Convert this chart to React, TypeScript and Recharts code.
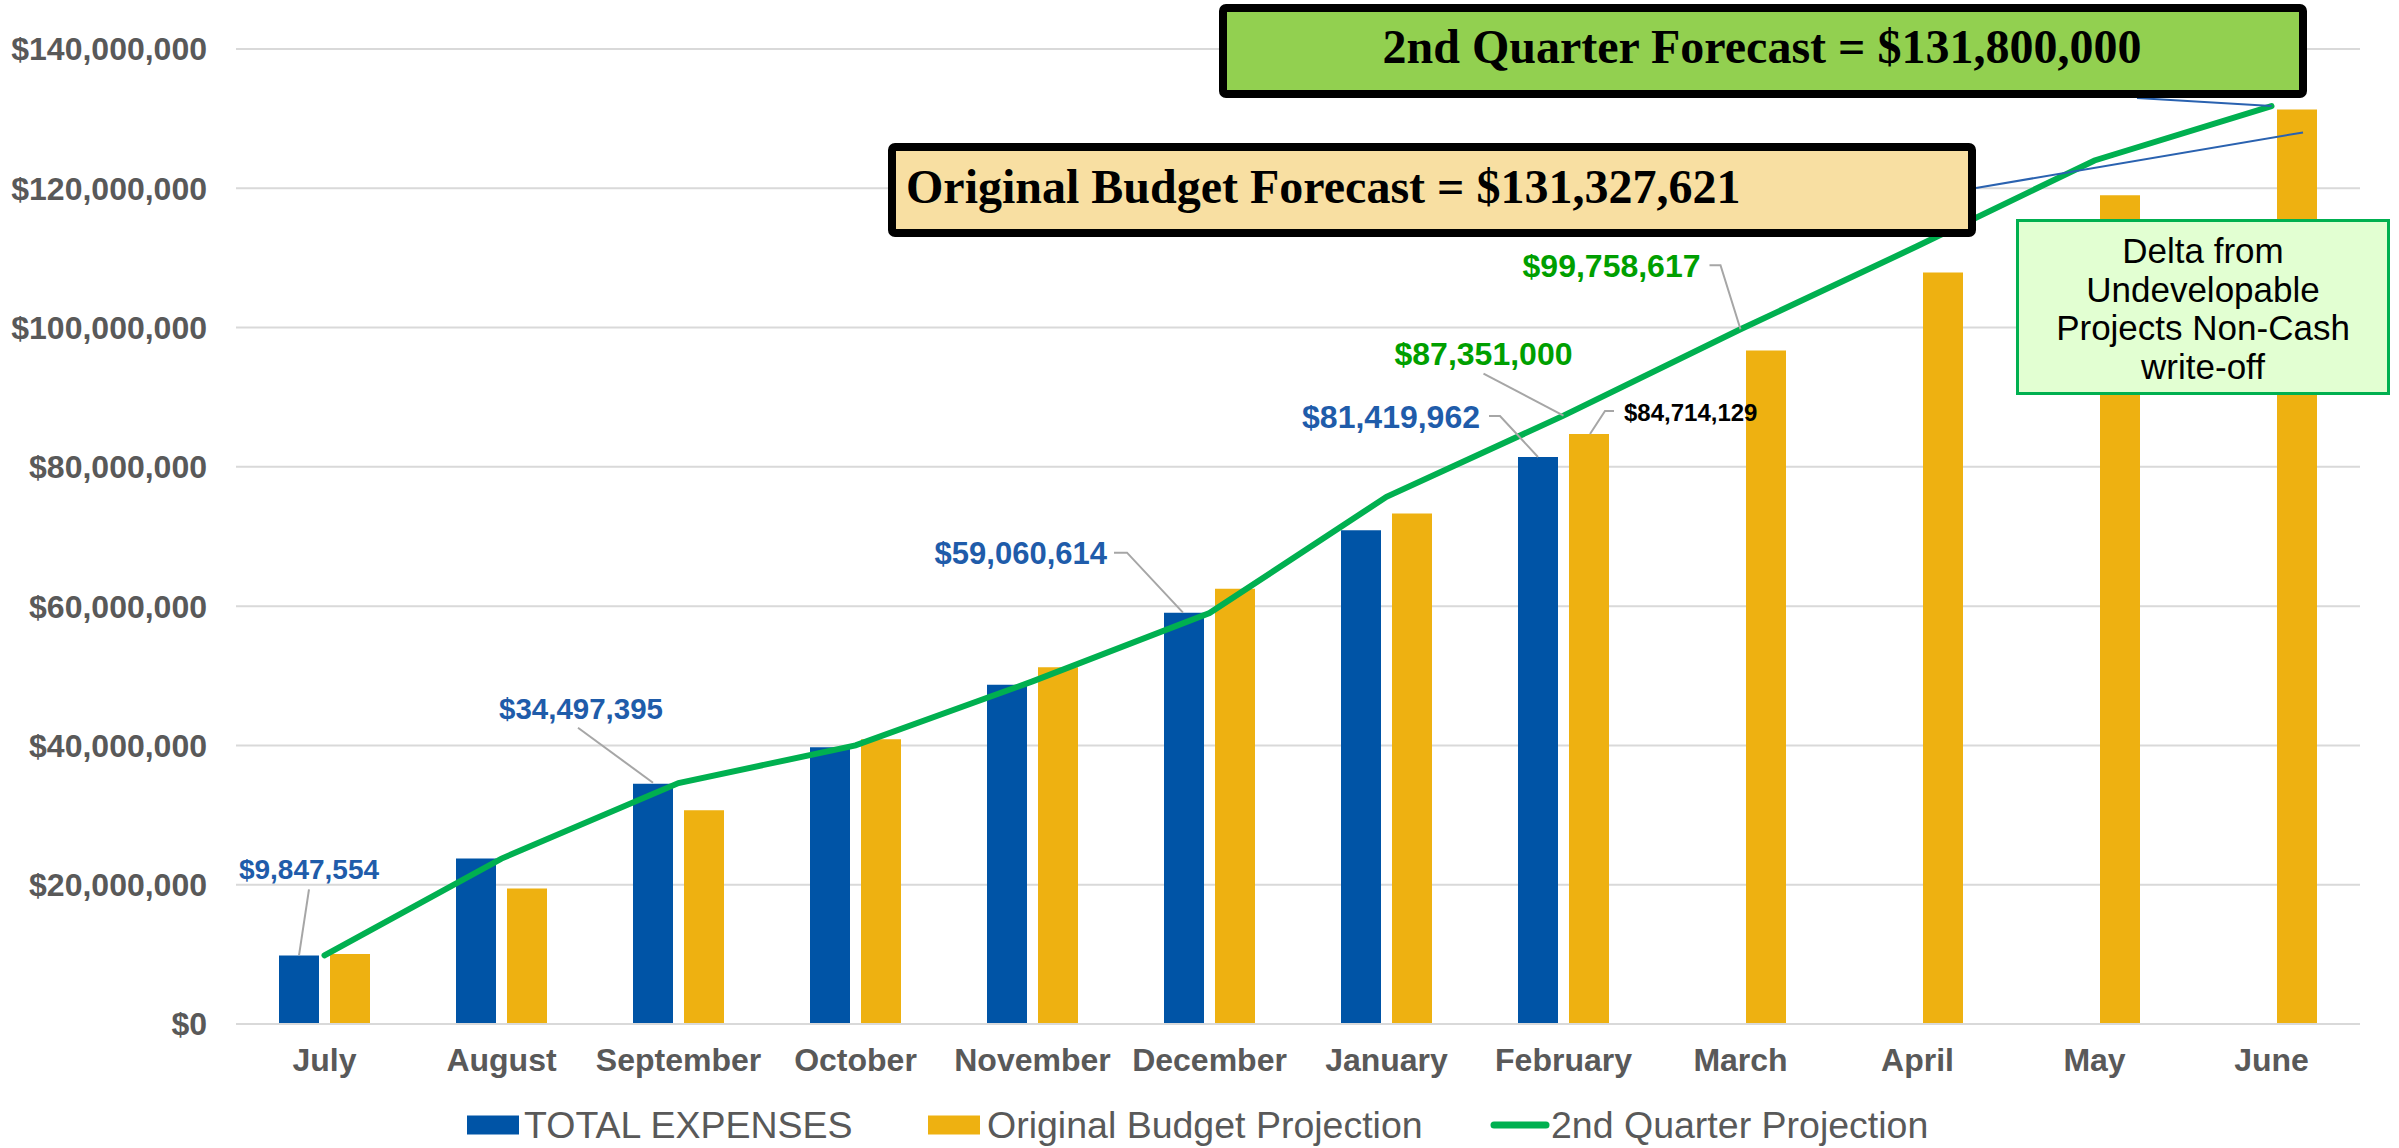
import React from 'react';
import { ComposedChart, Bar, Line, XAxis, YAxis, CartesianGrid, Legend, LabelList } from 'recharts';

// ---------- data ----------
const months = ['July', 'August', 'September', 'October', 'November', 'December', 'January', 'February', 'March', 'April', 'May', 'June'];
const totalExpenses: (number | null)[] = [9847554, 23750000, 34497395, 39740000, 48720000, 59060614, 70900000, 81419962, null, null, null, null];
const originalBudget = [10050000, 19470000, 30700000, 40880000, 51210000, 62490000, 73300000, 84714129, 96700000, 107900000, 119000000, 131327621];
const secondQuarter = [9847554, 23750000, 34600000, 40000000, 49200000, 59000000, 75700000, 87351000, 99758617, 111700000, 124000000, 131800000];
const yTicks = [0, 20000000, 40000000, 60000000, 80000000, 100000000, 120000000, 140000000];
const seriesNames = ['TOTAL EXPENSES', 'Original Budget Projection', '2nd Quarter Projection'];
const deltaNote = ['Delta from', 'Undevelopable', 'Projects Non-Cash', 'write-off'];

const data = months.map((m, i) => ({ month: m, expenses: totalExpenses[i], budget: originalBudget[i], q2: secondQuarter[i] }));

// ---------- styles ----------
const W = 2399;
const H = 1148;
const BLUE = '#0054A6';
const YELLOW = '#EEB111';
const GREEN = '#00B050';
const BLUE_TXT = '#1F5CAA';
const GREEN_TXT = '#009F00';
const GRID = '#D9D9D9';
const AXIS_TXT = '#595959';
const LEADER = '#A6A6A6';
const CONNECT = '#2A62B0';
const SANS = 'Liberation Sans, Arial, sans-serif';
const SERIF = 'Liberation Serif, Times New Roman, serif';

const money = (v: number) => '$' + Math.round(v).toLocaleString('en-US');

// label placement relative to the mark (cx/top for bars, point for line)
type LabelCfg = { dx: number; dy: number; anchor: 'start' | 'middle' | 'end'; size: number; color: string; leader: number[][] };
const blueLabelCfg: Record<number, LabelCfg> = {
  0: { dx: 10, dy: -76, anchor: 'middle', size: 28, color: BLUE_TXT, leader: [[10, -66], [0, 0]] },
  2: { dx: -72, dy: -65, anchor: 'middle', size: 29.5, color: BLUE_TXT, leader: [[-75, -56], [0, -1]] },
  5: { dx: -77, dy: -49, anchor: 'end', size: 31, color: BLUE_TXT, leader: [[-70, -60], [-57, -60], [-1, 0]] },
  7: { dx: -58, dy: -29, anchor: 'end', size: 32, color: BLUE_TXT, leader: [[-49, -41], [-38, -41], [0, 0]] },
};
const yellowLabelCfg: Record<number, LabelCfg> = {
  7: { dx: 35, dy: -13, anchor: 'start', size: 24, color: '#000000', leader: [[1, 0], [16, -23], [25, -23]] },
};
const lineLabelCfg: Record<number, LabelCfg> = {
  7: { dx: -80, dy: -51, anchor: 'middle', size: 32, color: GREEN_TXT, leader: [[-80, -42], [0, 0]] },
  8: { dx: -40, dy: -52, anchor: 'end', size: 32, color: GREEN_TXT, leader: [[-31, -64], [-20, -64], [0, 0]] },
};

// annotation boxes (chart pixel layout)
const greenBox = { x: 1223, y: 8, w: 1080, h: 86, fill: '#92D050', textX: 1762, textY: 63, anchorX: 2137 };
const tanBox = { x: 892, y: 147, w: 1080, h: 86, fill: '#F8DFA2', textX: 906, textY: 203 };
const deltaBox = { x: 2017.5, y: 220.5, w: 371, h: 173, fill: '#E2FFD2', textX: 2203, firstBaseline: 263, lineGap: 38.5 };

const renderLabel = (cfg: LabelCfg | undefined, cx: number, top: number, value: number) => {
  if (!cfg || value == null) return null;
  const pts = cfg.leader.map(([a, b]) => `${cx + a},${top + b}`).join(' ');
  return (
    <g>
      <polyline points={pts} fill="none" stroke={LEADER} strokeWidth={2} />
      <text x={cx + cfg.dx} y={top + cfg.dy} textAnchor={cfg.anchor} fontSize={cfg.size} fontWeight="bold" fill={cfg.color} fontFamily={SANS}>
        {money(value)}
      </text>
    </g>
  );
};

const BlueLabel = (p: any) => {
  const cx = Number(p.x) + Number(p.width) / 2;
  return renderLabel(blueLabelCfg[p.index], cx, Number(p.y), p.value);
};

const YellowLabel = (p: any) => {
  const cx = Number(p.x) + Number(p.width) / 2;
  const top = Number(p.y);
  if (p.index === originalBudget.length - 1) {
    return (
      <line x1={cx + 6} y1={top + 23} x2={tanBox.x + tanBox.w + 4} y2={tanBox.y + tanBox.h / 2 - 2} stroke={CONNECT} strokeWidth={2} />
    );
  }
  return renderLabel(yellowLabelCfg[p.index], cx, top, p.value);
};

const LineLabel = (p: any) => {
  const px = Number(p.x);
  const py = Number(p.y);
  if (p.index === secondQuarter.length - 1) {
    return (
      <g>
        <line x1={greenBox.anchorX} y1={greenBox.y + greenBox.h + 4} x2={px} y2={py} stroke={CONNECT} strokeWidth={2} />
        <rect x={greenBox.x} y={greenBox.y} width={greenBox.w} height={greenBox.h} fill={greenBox.fill} stroke="#000" strokeWidth={8} rx={3} />
        <text x={greenBox.textX} y={greenBox.textY} textAnchor="middle" fontSize={48} fontWeight="bold" fontFamily={SERIF} fill="#000">
          {`2nd Quarter Forecast = ${money(secondQuarter[secondQuarter.length - 1])}`}
        </text>
        <rect x={tanBox.x} y={tanBox.y} width={tanBox.w} height={tanBox.h} fill={tanBox.fill} stroke="#000" strokeWidth={8} rx={3} />
        <text x={tanBox.textX} y={tanBox.textY} textAnchor="start" fontSize={48} fontWeight="bold" fontFamily={SERIF} fill="#000">
          {`Original Budget Forecast = ${money(originalBudget[originalBudget.length - 1])}`}
        </text>
        <rect x={deltaBox.x} y={deltaBox.y} width={deltaBox.w} height={deltaBox.h} fill={deltaBox.fill} stroke={GREEN} strokeWidth={3} />
        {deltaNote.map((t, i) => (
          <text key={t} x={deltaBox.textX} y={deltaBox.firstBaseline + i * deltaBox.lineGap} textAnchor="middle" fontSize={35} fontFamily={SANS} fill="#000">
            {t}
          </text>
        ))}
      </g>
    );
  }
  return renderLabel(lineLabelCfg[p.index], px, py, p.value);
};

const legendItems = [
  { name: seriesNames[0], color: BLUE, kind: 'rect', iconX: 467, textX: 524 },
  { name: seriesNames[1], color: YELLOW, kind: 'rect', iconX: 928, textX: 987 },
  { name: seriesNames[2], color: GREEN, kind: 'line', iconX: 1492, textX: 1551 },
];

const LegendContent = () => (
  <svg width={W} height={64} style={{ display: 'block' }}>
    {legendItems.map((it) => (
      <g key={it.name}>
        {it.kind === 'rect' ? (
          <rect x={it.iconX} y={31.5} width={52} height={19} fill={it.color} />
        ) : (
          <line x1={it.iconX + 2} y1={41} x2={it.iconX + 54} y2={41} stroke={it.color} strokeWidth={7} strokeLinecap="round" />
        )}
        <text x={it.textX} y={54} fontSize={37.5} fontFamily={SANS} fill={AXIS_TXT}>
          {it.name}
        </text>
      </g>
    ))}
  </svg>
);

export default function App() {
  return (
    <div style={{ position: 'absolute', left: 0, top: 0, width: W, height: H, background: '#fff' }}>
      <ComposedChart
        width={W}
        height={H}
        data={data}
        margin={{ top: 49, right: 39, bottom: 0, left: 0 }}
        barSize={40}
        barGap={11}
        style={{ fontFamily: SANS }}
      >
        <CartesianGrid vertical={false} stroke={GRID} strokeWidth={2} />
        <XAxis
          dataKey="month"
          interval={0}
          height={60}
          tickLine={false}
          tickSize={0}
          tickMargin={24}
          axisLine={{ stroke: GRID, strokeWidth: 2 }}
          tick={{ fill: AXIS_TXT, fontSize: 32, fontWeight: 'bold', fontFamily: SANS }}
        />
        <YAxis
          width={236}
          domain={[0, 140000000]}
          ticks={yTicks}
          tickFormatter={(v: number) => money(v)}
          axisLine={false}
          tickLine={false}
          tickSize={0}
          tickMargin={29}
          tick={{ fill: AXIS_TXT, fontSize: 32, fontWeight: 'bold', fontFamily: SANS }}
        />
        <Legend verticalAlign="bottom" height={64} content={<LegendContent />} />
        <Bar dataKey="expenses" name={seriesNames[0]} fill={BLUE} isAnimationActive={false}>
          <LabelList dataKey="expenses" content={BlueLabel} />
        </Bar>
        <Bar dataKey="budget" name={seriesNames[1]} fill={YELLOW} isAnimationActive={false}>
          <LabelList dataKey="budget" content={YellowLabel} />
        </Bar>
        <Line
          type="linear"
          dataKey="q2"
          name={seriesNames[2]}
          stroke={GREEN}
          strokeWidth={6}
          strokeLinecap="round"
          dot={false}
          activeDot={false}
          isAnimationActive={false}
        >
          <LabelList dataKey="q2" content={LineLabel} />
        </Line>
      </ComposedChart>
    </div>
  );
}
